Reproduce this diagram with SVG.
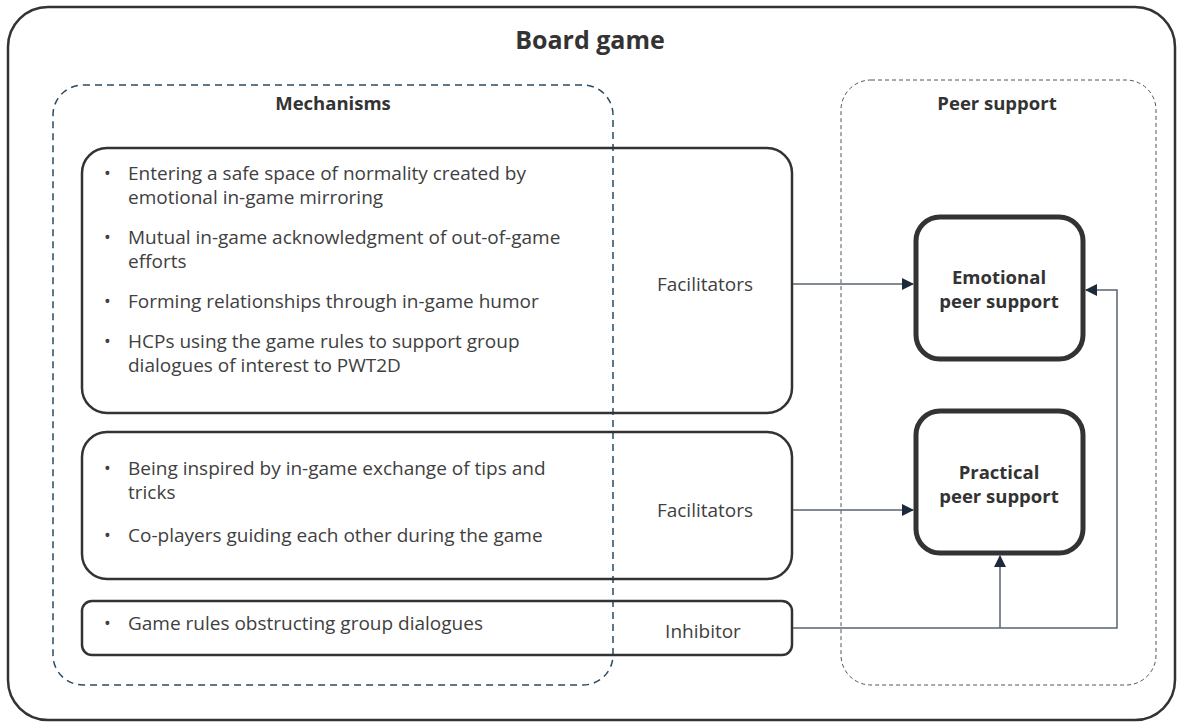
<svg xmlns="http://www.w3.org/2000/svg" width="1181" height="726" viewBox="0 0 1181 726">
<defs>
<style>
.t{font-family:"Open Sans","Noto Sans","Liberation Sans",sans-serif;font-size:19px;fill:#404040}
.d{font-family:"Open Sans","Noto Sans","Liberation Sans",sans-serif;font-size:18px;fill:#404040}
.b{font-family:"Open Sans","Noto Sans","Liberation Sans",sans-serif;font-weight:bold;fill:#333}
.box{fill:none;stroke:#333;stroke-width:2.5}
.tgt{fill:#fff;stroke:#333;stroke-width:5}
.con{fill:none;stroke:#5a6370;stroke-width:1.5}
</style>
<marker id="ah" markerWidth="12" markerHeight="12" viewBox="0 0 12 12" refX="11" refY="6" orient="auto" markerUnits="userSpaceOnUse">
<path d="M0,0 L12,6 L0,12 Z" fill="#1e2a3a"/>
</marker>
</defs>
<rect width="1181" height="726" fill="#fff"/>
<g id="board-game">
<rect x="8" y="7" width="1167" height="713" rx="40" class="box" stroke-width="2"/>
<text x="590" y="49" text-anchor="middle" class="b" font-size="25">Board game</text>
</g>
<g id="mechanisms">
<rect x="53" y="85" width="560" height="600" rx="30" fill="none" stroke="#2a4a62" stroke-width="1.5" stroke-dasharray="7,5"/>
<text x="333" y="110" text-anchor="middle" class="b" font-size="18.5">Mechanisms</text>
</g>
<g id="peer-support">
<rect x="841" y="80" width="315" height="605" rx="30" fill="none" stroke="#555" stroke-width="1" stroke-dasharray="4,3"/>
<text x="997" y="110" text-anchor="middle" class="b" font-size="18.5">Peer support</text>
</g>
<g id="facilitators-emotional">
<rect x="82" y="148" width="710" height="265" rx="25" class="box"/>
<text class="d" x="104" y="180">•</text><text class="t" x="128" y="180">Entering a safe space of normality created by</text><text class="t" x="128" y="204">emotional in-game mirroring</text>
<text class="d" x="104" y="244">•</text><text class="t" x="128" y="244">Mutual in-game acknowledgment of out-of-game</text><text class="t" x="128" y="268">efforts</text>
<text class="d" x="104" y="308">•</text><text class="t" x="128" y="308">Forming relationships through in-game humor</text>
<text class="d" x="104" y="348">•</text><text class="t" x="128" y="348">HCPs using the game rules to support group</text><text class="t" x="128" y="372">dialogues of interest to PWT2D</text>
<text x="705" y="291" text-anchor="middle" class="t">Facilitators</text>
</g>
<g id="facilitators-practical">
<rect x="82" y="432" width="710" height="147" rx="25" class="box"/>
<text class="d" x="104" y="475">•</text><text class="t" x="128" y="475">Being inspired by in-game exchange of tips and</text><text class="t" x="128" y="499">tricks</text>
<text class="d" x="104" y="542">•</text><text class="t" x="128" y="542">Co-players guiding each other during the game</text>
<text x="705" y="517" text-anchor="middle" class="t">Facilitators</text>
</g>
<g id="inhibitor">
<rect x="82" y="601" width="710" height="54" rx="10" class="box"/>
<text class="d" x="104" y="630">•</text><text class="t" x="128" y="630">Game rules obstructing group dialogues</text>
<text x="703" y="638" text-anchor="middle" class="t">Inhibitor</text>
</g>
<g id="emotional-peer-support">
<rect x="916" y="217" width="167" height="142" rx="24" class="tgt"/>
<text text-anchor="middle" class="b" font-size="18.5"><tspan x="999" y="284">Emotional</tspan><tspan x="999" y="308">peer support</tspan></text>
</g>
<g id="practical-peer-support">
<rect x="916" y="411" width="167" height="142" rx="24" class="tgt"/>
<text text-anchor="middle" class="b" font-size="18.5"><tspan x="999" y="479">Practical</tspan><tspan x="999" y="503">peer support</tspan></text>
</g>
<g id="connectors">
<path d="M793,284 H913" class="con" marker-end="url(#ah)"/>
<path d="M793,510 H913" class="con" marker-end="url(#ah)"/>
<path d="M793,628 H1117 V290 H1086" class="con" marker-end="url(#ah)"/>
<path d="M1000,628 V556" class="con" marker-end="url(#ah)"/>
</g>
</svg>
